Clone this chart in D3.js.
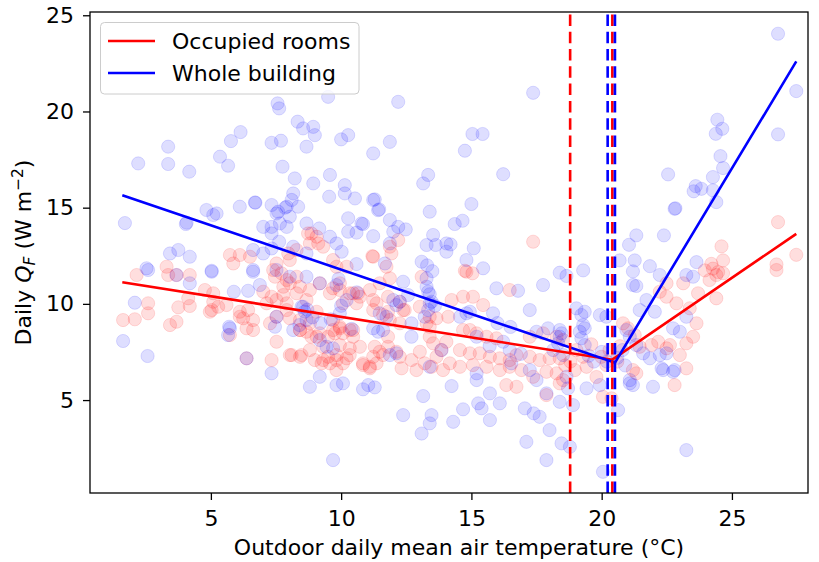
<!DOCTYPE html>
<html>
<head>
<meta charset="utf-8">
<script src="https://cdn.jsdelivr.net/npm/d3@7"></script>
<style>
  html, body { margin: 0; padding: 0; background: #fff; }
  svg { display: block; font-family: "DejaVu Sans", sans-serif; }
</style>
</head>
<body>
<svg id="chart" width="819" height="562"></svg>
<script>
// ---------------- data ----------------
const xTicks = [5, 10, 15, 20, 25];
const yTicks = [5, 10, 15, 20, 25];
const seriesNames = ["Occupied rooms", "Whole building"];
const seriesColors = ["#ff0000", "#0000ff"];

// fitted piecewise-linear models (temperature, Q_F)
const roomsFitT = [1.6, 20.41, 27.47];
const roomsFitQ = [11.12, 7.1, 13.64];
const buildingFitT = [1.6, 20.51, 27.47];
const buildingFitQ = [15.65, 6.94, 22.6];

// change-point temperatures (dashed vertical lines)
const roomsBreaks = [18.79, 20.41];
const buildingBreaks = [20.23, 20.51];

// daily points: whole building [temperature, Q_F]
const buildingPoints = [
[2.21,17.3],[3.36,18.17],[3.36,17.27],[4.17,16.87],[1.70,14.2],[4.07,14.22],[4.83,14.88],[5.22,14.7],[5.09,14.62],[5.35,17.65],[5.66,17.18],[5.77,18.46],[6.14,18.93],[6.11,15.05],[6.69,15.27],[7.33,18.37],[7.69,18.48],[7.56,20.42],[7.62,20.16],[7.75,17.13],[8.33,19.47],[8.54,19.12],[8.93,19.2],[8.99,18.77],[8.67,18.17],[8.93,16.26],[8.22,16.52],[8.16,15.74],[8.1,15.4],[7.85,15.0],[7.52,14.7],[8.35,15.05],[9.5,20.76],[9.57,16.7],[10.14,16.17],[10.14,15.74],[10.53,15.48],[10.0,18.55],[10.27,18.77],[11.23,17.82],[11.87,18.42],[12.19,20.5],[11.23,15.4],[11.42,14.87],[11.87,14.36],[10.27,14.45],[10.78,14.18],
[13.34,16.7],[13.15,16.26],[15.04,18.83],[15.43,18.83],[14.75,17.96],[16.22,16.74],[17.37,20.97],[13.4,14.79],[15.0,15.19],[11.29,15.43],[11.46,14.91],[10.84,14.15],[10.59,13.7],[10.27,13.75],[12.19,14.0],[12.48,13.87],[12.0,13.75],[11.23,13.52],[11.87,13.14],[11.68,12.1],[13.53,13.58],[13.28,13.06],[13.63,13.06],[14.04,13.14],[14.2,13.09],[14.04,12.71],[14.36,14.15],[14.66,14.32],[15.09,12.89],[14.81,12.28],[15.45,11.85],[13.09,12.19],[10.59,12.07],[9.57,13.49],[9.82,13.14],[10.02,12.71],[18.39,11.62],[18.65,11.45],
[26.77,24.04],[27.47,21.06],[26.77,18.81],[24.44,19.57],[24.63,19.1],[24.38,18.84],[24.56,17.68],[24.66,17.06],[24.27,16.59],[22.55,16.73],[23.61,16.12],[23.53,15.85],[23.83,15.98],[24.27,15.9],[24.4,15.29],[22.8,14.94],[22.83,14.97],[22.39,13.56],[21.33,13.56],[21.05,13.07],[20.69,12.26],[21.27,12.26],[21.2,11.69],[21.85,11.96],[19.29,11.74],[23.64,12.17],
[7.58,14.79],[7.91,15.05],[6.71,15.26],[7.33,15.14],[4.04,14.15],[7.01,14.0],[7.33,14.0],[7.33,13.66],[7.65,14.18],[7.91,14.0],[8.03,14.53],[8.67,14.18],[9.16,13.92],[9.54,15.57],[6.62,12.8],[7.01,12.62],[7.33,12.88],[7.62,13.23],[8.16,12.97],[8.67,12.62],[3.43,12.62],[3.75,12.8],[4.19,12.45],[2.53,11.85],[5.03,11.72],[6.62,11.76],
[2.08,10.06],[1.63,8.07],[2.57,7.29],[5.88,10.63],[6.43,10.68],[5.7,8.81],[6.37,7.17],[7.33,6.39],[9.18,6.21],[8.8,5.69],[8.54,9.85],[8.6,9.6],[7.52,9.33],[7.46,8.81],[9.69,1.88],
[9.82,5.78],[10.07,5.87],[10.84,5.56],[11.04,5.78],[11.29,5.66],[12.38,4.22],[5.73,8.73],[5.66,8.38],[8.48,9.85],[8.67,9.16],[8.16,8.64],[9.18,8.12],[9.44,7.77],[9.69,7.69],[9.82,10.98],[10.21,10.2],[9.95,9.51],
[13.09,3.26],[13.47,4.22],[13.4,3.79],[13.15,5.21],[14.3,3.87],[14.68,4.52],[14.24,5.73],[15.26,4.83],[15.39,4.57],[15.71,3.96],[15.71,5.35],[16.09,4.83],[15.2,6.04],[17.05,4.57],[17.39,4.31],[17.62,4.13],[18.0,3.44],[17.11,2.83],[17.88,1.88],[18.46,2.75],[18.78,2.57],[17.24,9.68],[16.79,10.68],[17.75,10.98],[15.96,10.81],[15.83,9.51],[14.81,9.51],[13.28,11.33],[13.28,10.89],[13.34,10.63],[12.38,11.15],[12.0,10.2],[12.12,9.94],[11.48,9.51],[11.74,9.33],[11.23,8.73],[11.42,8.55],[11.61,8.64],[11.87,7.34],[12.12,7.43],[12.7,8.29],[12.7,8.99],[13.4,6.73],[13.85,7.6],[13.34,9.68],[13.4,10.03],[14.56,9.33],[14.94,9.59],[15.2,8.29],[16.22,8.03],[16.47,7.6],[16.53,6.91],[17.24,6.56],[17.5,6.04],[17.88,5.35],[18.39,4.91],[17.5,8.55],[17.94,8.73],[18.39,8.64],[18.39,8.29],[18.14,7.6],[18.52,7.34],[15.2,6.39],
[20.05,1.27],[20.63,4.48],[23.25,2.4],[19.42,5.61],[19.93,5.78],[21.2,5.78],[21.08,5.87],[21.97,5.69],[22.36,6.56],[22.74,6.47],[23.0,8.55],[22.74,8.73],[21.46,9.68],[21.72,10.2],[21.2,10.98],[22.23,11.5],[23.25,11.5],[23.51,11.41],[19.93,9.42],[20.18,9.33],[19.03,9.77],[19.22,9.42],[19.35,8.73],[19.16,8.55],[19.22,8.21],[19.35,7.86],[18.46,8.47],[18.33,7.95],[18.65,6.21],[18.71,5.61],[12.25,10.11],[12.57,10.46],[13.47,10.11],[13.21,9.33],
[21.33,10.93],[22.04,9.59],[23.25,9.33],[19.35,9.59],[19.29,8.9],[22.3,6.65],[22.8,6.56],[18.9,4.74],[21.33,7.86],[21.59,7.43],[21.85,7.17],[22.23,7.34],[22.49,7.43],[20.95,8.64],[21.08,8.29],[21.08,6.04],
[2.59,11.76],[3.68,11.5],[4.19,11.07],[5.03,11.67],[6.62,11.67],[6.88,10.98],[7.52,11.76],[8.03,11.41],[8.67,11.41],[9.18,11.07],
[19.5,7.3],[19.7,7.0],[20.0,7.5],[20.2,7.0],[20.6,7.2],[20.8,7.6],[20.9,6.8],[16.0,9.0],[16.5,8.8],[15.7,7.8],[16.9,7.4],
[8.7,9.7],[8.9,9.3],[9.2,9.0],[8.4,8.9],[9.6,9.2],[10.0,9.9],[10.4,8.7],[10.6,10.6],[9.9,11.3],[13.3,12.0],[13.5,11.7],[13.4,10.5],[13.6,9.9]
];

// daily points: occupied rooms [temperature, Q_F]
const roomsPoints = [
[1.63,9.16],[2.08,9.2],[2.59,9.51],[2.59,10.03],[2.15,11.5],[3.36,11.5],[4.19,11.5],[3.43,8.9],[3.68,9.07],[3.75,9.82],[4.19,9.89],[5.03,9.68],[4.77,10.72],[5.09,10.55],[5.6,9.94],[6.11,9.59],[5.73,8.38],[6.37,7.17],[6.37,8.73],[6.62,8.64],[7.33,7.08],[7.52,8.03],[8.1,7.34],[8.42,7.25],[8.8,7.6],[9.31,7.08],[8.42,8.64],[8.8,8.99],[9.06,8.29],[7.01,10.63],[7.33,10.37],[7.78,10.46],[8.29,10.55],[8.67,10.2],[7.46,11.41],[7.91,11.24],[8.29,11.41],[7.78,10.89],[8.03,9.25],[7.27,8.99],[6.24,9.25],[6.62,9.16],[9.31,7.77],[9.5,7.25],
[4.13,10.29],[4.96,9.59],[5.28,9.85],[5.09,10.11],[6.11,9.33],[6.43,9.68],[8.03,7.34],[8.48,7.34],[8.99,7.08],[9.25,6.91],[9.57,6.91],[9.82,7.08],[10.07,6.91],[9.82,6.56],[8.67,8.55],[8.42,8.64],[8.86,8.29],[9.18,8.47],[9.5,8.29],[9.69,8.64],[9.95,8.73],[10.33,8.64],[10.46,8.29],[10.33,7.69],[10.33,7.34],[9.95,7.86],[10.84,6.82],[11.1,6.65],[11.36,6.91],[11.23,7.25],[11.48,7.51],[11.8,7.77],[12.12,7.51],[11.61,9.42],[11.87,9.16],[12.25,8.99],[12.38,9.68],[11.36,10.03],[11.8,10.37],[12.25,10.11],[10.46,10.55],[10.72,10.37],[11.1,10.72],[11.48,11.07],[11.87,11.33],[8.03,11.07],[8.42,10.89],[8.8,10.72],[9.18,11.07],[9.57,10.55],[9.95,10.72],[7.14,10.03],[7.52,10.2],[7.91,10.03],[7.52,9.33],[7.91,9.68],[8.42,9.16],[9.06,9.59],
[3.3,11.93],[3.68,11.5],[5.73,12.54],[6.11,12.54],[5.86,12.1],[7.52,12.1],[7.71,11.59],[7.39,11.76],[8.86,13.66],[9.12,13.14],[11.23,12.45],[11.87,12.97],[12.19,13.32],[11.74,11.93],[7.97,12.62],[9.69,12.28],[10.21,11.93],
[6.5,12.45],[8.03,12.28],[8.29,12.8],[8.73,13.66],[9.06,13.49],[8.8,13.14],[9.31,12.97],
[11.2,12.48],[11.93,12.62],[17.37,13.23],[14.75,11.72],[15.04,11.59],[9.82,11.93],[13.09,11.41],
[9.69,10.81],[9.95,11.07],[10.33,10.55],[10.65,10.55],[10.07,10.03],[10.59,10.03],[11.23,10.2],[11.23,9.68],[11.8,9.59],[12.44,9.68],[9.69,9.16],[9.95,8.81],[9.76,8.47],[10.07,8.47],[10.46,8.64],[10.72,7.77],[9.82,7.34],[10.21,7.17],[10.84,6.91],[11.1,6.73],[11.29,7.77],[11.8,8.29],[11.61,7.34],[12.25,7.25],[12.32,6.65],[12.7,7.08],[13.02,7.51],[12.89,6.56],[13.02,9.85],[13.4,9.33],[13.28,8.99],[13.66,9.25],[14.11,9.33],[13.4,8.81],[13.4,8.29],[13.53,7.95],[13.85,7.6],[14.04,8.03],[13.21,6.91],[13.47,6.73],[13.66,7.25],[13.91,6.56],[14.17,6.91],[14.24,10.2],[14.68,10.37],[15.06,10.37],[15.45,9.94],[14.68,8.64],[14.94,8.64],[15.2,8.47],[15.58,8.29],[15.96,8.21],[14.56,7.6],[14.94,7.43],[15.32,7.43],[15.71,7.25],[16.09,7.17],[16.47,7.08],[16.73,7.34],[17.24,7.25],[17.62,7.08],[18.0,7.17],[18.39,7.17],[14.56,6.73],[15.06,6.82],[15.58,6.73],[16.09,6.56],[16.47,6.73],[16.92,6.56],[17.37,6.21],[17.88,6.47],[18.27,6.39],[18.52,6.04],[16.34,5.78],[16.73,5.69],[17.88,5.26],[18.39,5.87],[14.81,11.67],[17.24,8.29],[17.75,8.47],[18.27,8.29],[18.52,8.12],[16.47,10.72],
[19.03,7.6],[19.29,7.25],[19.42,6.73],[18.97,6.56],[19.99,7.25],[20.18,6.82],[20.05,5.17],[20.38,5.09],[20.82,8.99],[21.01,8.73],[21.27,8.38],[21.46,7.77],[21.2,6.56],[21.33,6.39],[21.91,7.86],[22.17,8.03],[22.49,7.69],[22.62,7.86],[23.0,7.34],[23.25,6.65],[22.8,5.78],[22.23,10.63],[22.49,10.37],[22.87,10.03],[22.49,11.07],[23.13,11.07],[23.38,9.77],[23.64,8.99],[23.51,8.29],[23.25,7.95],[23.7,10.55],[24.4,10.29],[24.14,11.24],[24.4,11.5],[24.66,11.59],[26.71,11.76],[26.77,14.25],[27.47,12.55],[26.71,12.05],[24.6,12.99],[24.66,12.26],[24.27,11.83],[24.47,11.65],[24.21,12.08],[23.96,11.74],
[19.6,7.9],[20.3,7.6],[20.6,7.0],[20.7,7.8],[19.8,6.2],[18.8,7.0],[18.6,6.8]
];

// ---------------- layout ----------------
const FS = 22;
const plot = { left: 90, right: 808, top: 12, bottom: 493 };
const svg = d3.select("#chart");

const x = d3.scaleLinear().domain([0.36, 27.92]).range([plot.left, plot.right]);
const y = d3.scaleLinear().domain([0.17, 25.17]).range([plot.bottom, plot.top]);

svg.append("defs").append("clipPath").attr("id", "clip")
  .append("rect").attr("x", plot.left).attr("y", plot.top)
  .attr("width", plot.right - plot.left).attr("height", plot.bottom - plot.top);

const g = svg.append("g").attr("clip-path", "url(#clip)");

function scatter(points, color) {
  g.append("g").selectAll("circle").data(points).join("circle")
    .attr("cx", d => x(d[0])).attr("cy", d => y(d[1])).attr("r", 6.6)
    .attr("fill", color).attr("fill-opacity", 0.13)
    .attr("stroke", color).attr("stroke-opacity", 0.13).attr("stroke-width", 1);
}
scatter(roomsPoints, seriesColors[0]);
scatter(buildingPoints, seriesColors[1]);

const line = d3.line().x(d => x(d[0])).y(d => y(d[1]));
function fitLine(ts, qs, color) {
  g.append("path").datum(ts.map((t, i) => [t, qs[i]]))
    .attr("d", line).attr("fill", "none").attr("stroke", color)
    .attr("stroke-width", 2.6).attr("stroke-linejoin", "miter");
}
fitLine(roomsFitT, roomsFitQ, seriesColors[0]);
fitLine(buildingFitT, buildingFitQ, seriesColors[1]);

function vline(t, color) {
  g.append("line").attr("x1", x(t)).attr("x2", x(t))
    .attr("y1", plot.bottom).attr("y2", plot.top)
    .attr("stroke", color).attr("stroke-width", 2.6)
    .attr("stroke-dasharray", "11.5,5.8");
}
vline(roomsBreaks[0], seriesColors[0]);
vline(buildingBreaks[0], seriesColors[1]);
vline(roomsBreaks[1], seriesColors[0]);
vline(buildingBreaks[1], seriesColors[1]);

// ---------------- axes ----------------
const xAxis = svg.append("g").attr("transform", `translate(0,${plot.bottom})`)
  .call(d3.axisBottom(x).tickValues(xTicks).tickSize(7).tickPadding(10).tickFormat(d3.format("d")));
const yAxis = svg.append("g").attr("transform", `translate(${plot.left},0)`)
  .call(d3.axisLeft(y).tickValues(yTicks).tickSize(7).tickPadding(9).tickFormat(d3.format("d")));
[xAxis, yAxis].forEach(a => {
  a.select(".domain").remove();
  a.selectAll(".tick line").attr("stroke", "#000").attr("stroke-width", 1.3);
  a.selectAll(".tick text").attr("fill", "#000").style("font-size", FS + "px")
    .style("font-family", "'DejaVu Sans', sans-serif");
});

// spines
svg.append("rect").attr("x", plot.left).attr("y", plot.top)
  .attr("width", plot.right - plot.left).attr("height", plot.bottom - plot.top)
  .attr("fill", "none").attr("stroke", "#000").attr("stroke-width", 1.3);

// axis labels
svg.append("text").attr("x", 459).attr("y", 555)
  .attr("text-anchor", "middle").style("font-size", FS + "px")
  .text("Outdoor daily mean air temperature (°C)");

const yl = svg.append("text").attr("transform", `translate(31,${(plot.top + plot.bottom) / 2}) rotate(-90)`)
  .attr("text-anchor", "middle").style("font-size", FS + "px");
yl.append("tspan").text("Daily ");
yl.append("tspan").attr("font-style", "italic").text("Q");
yl.append("tspan").attr("font-style", "italic").attr("dy", 4).style("font-size", (FS * 0.7) + "px").text("F");
yl.append("tspan").attr("dy", -4).text(" (W m");
yl.append("tspan").attr("dy", -8).style("font-size", (FS * 0.7) + "px").text("−2");
yl.append("tspan").attr("dy", 8).text(")");

// legend
const lg = svg.append("g");
lg.append("rect").attr("x", 100.5).attr("y", 22.5).attr("width", 258.5).attr("height", 71.5)
  .attr("rx", 4).attr("fill", "#fff").attr("fill-opacity", 0.8)
  .attr("stroke", "#cccccc").attr("stroke-width", 1);
seriesNames.forEach((name, i) => {
  const yy = 41 + i * 32;
  lg.append("line").attr("x1", 108).attr("x2", 155).attr("y1", yy).attr("y2", yy)
    .attr("stroke", seriesColors[i]).attr("stroke-width", 2.6);
  lg.append("text").attr("x", 172).attr("y", yy + 8).style("font-size", FS + "px").text(name);
});
</script>
</body>
</html>
